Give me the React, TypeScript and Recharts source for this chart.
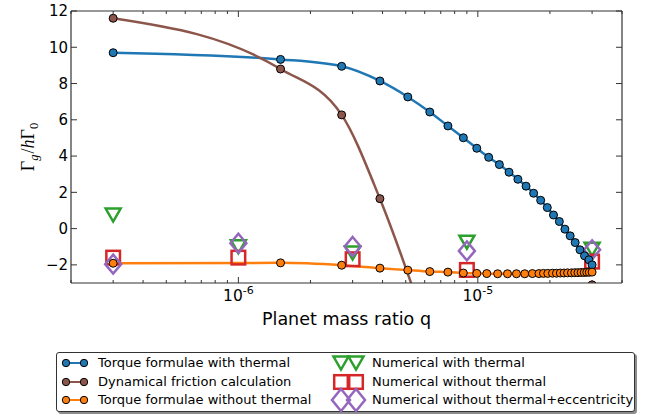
import React from "react";
import { ComposedChart, Line, Scatter, XAxis, YAxis, Legend } from "recharts";

// Torque formulae with thermal
const qThermal = [
  3e-7, 1.5e-6, 2.7e-6, 3.9e-6, 5.1e-6, 6.3e-6, 7.5e-6, 8.7e-6, 9.9e-6, 1.11e-5,
  1.23e-5, 1.35e-5, 1.47e-5, 1.59e-5, 1.71e-5, 1.83e-5, 1.95e-5, 2.07e-5, 2.19e-5,
  2.31e-5, 2.43e-5, 2.55e-5, 2.67e-5, 2.79e-5, 2.91e-5, 3.0e-5,
];
const gThermal = [
  9.7, 9.33, 8.95, 8.14, 7.26, 6.43, 5.66, 5.01, 4.43, 3.93, 3.53, 3.11, 2.72, 2.34,
  1.95, 1.56, 1.16, 0.75, 0.39, -0.03, -0.4, -0.77, -1.17, -1.5, -1.72, -2.0,
];

// Dynamical friction calculation
const qFriction = [3e-7, 1.5e-6, 2.7e-6, 3.9e-6, 6.3e-6, 1e-5, 3e-5];
const gFriction = [11.6, 8.8, 6.27, 1.65, -6.0, null, -3.1];

// Torque formulae without thermal
const qNoThermal = [
  3e-7, 1.5e-6, 2.7e-6, 3.9e-6, 5.1e-6, 6.3e-6, 7.5e-6, 8.7e-6, 9.9e-6, 1.09e-5,
  1.21e-5, 1.33e-5, 1.45e-5, 1.57e-5, 1.69e-5, 1.8e-5, 1.88e-5, 1.96e-5, 2.05e-5,
  2.13e-5, 2.21e-5, 2.29e-5, 2.37e-5, 2.46e-5, 2.54e-5, 2.62e-5, 2.7e-5, 2.78e-5,
  2.85e-5, 2.92e-5, 3.0e-5,
];
const gNoThermal = [
  -1.91, -1.89, -2.02, -2.18, -2.29, -2.37, -2.4, -2.45, -2.47, -2.48, -2.49, -2.49,
  -2.49, -2.49, -2.48, -2.48, -2.47, -2.47, -2.46, -2.46, -2.45, -2.45, -2.44, -2.44,
  -2.43, -2.43, -2.42, -2.42, -2.41, -2.41, -2.4,
];

// numerical runs
const qNumerical = [3e-7, 1e-6, 3e-6, 9e-6, 3e-5];
const gNumThermal = [0.75, -1.0, -1.35, -0.75, -1.14];
const gNumNoThermal = [-1.6, -1.6, -1.69, -2.28, -1.82];
const gNumEcc = [-1.96, -0.81, -0.99, -1.23, -1.17];

const xMajorTicks = [1e-6, 1e-5];
const xMajorExponents = ["-6", "-5"];
const xMinorTicks = [
  2e-7, 3e-7, 4e-7, 5e-7, 6e-7, 7e-7, 8e-7, 9e-7, 2e-6, 3e-6, 4e-6, 5e-6, 6e-6, 7e-6,
  8e-6, 9e-6, 2e-5, 3e-5, 4e-5,
];
const yTicks = [-2, 0, 2, 4, 6, 8, 10, 12];

const names = [
  "Torque formulae with thermal",
  "Dynamical friction calculation",
  "Torque formulae without thermal",
  "Numerical with thermal",
  "Numerical without thermal",
  "Numerical without thermal+eccentricity",
];

const BLUE = "#1f77b4";
const BROWN = "#8c564b";
const ORANGE = "#ff7f0e";
const GREEN = "#2ca02c";
const RED = "#d62728";
const PURPLE = "#9467bd";
const AXIS = "#333";
const FONT = '"DejaVu Sans", sans-serif';

const pts = (qs: number[], gs: (number | null)[]) => qs.map((q, i) => ({ q, g: gs[i] }));

const allXTicks = [...xMinorTicks, ...xMajorTicks].sort((a, b) => a - b);

function BottomTick(props: any) {
  const { x, y, payload } = props;
  const idx = xMajorTicks.indexOf(payload.value);
  const major = idx >= 0;
  return (
    <g>
      <line x1={x} x2={x} y1={y} y2={y - (major ? 6 : 3)} stroke={AXIS} strokeWidth={1} />
      {major && (
        <text x={x} y={y + 18} textAnchor="middle" fontFamily={FONT} fontSize={15.5} fill="#000">
          10
          <tspan dy={-7} fontSize={11}>
            {xMajorExponents[idx]}
          </tspan>
        </text>
      )}
    </g>
  );
}

function TopTick(props: any) {
  const { x, y, payload } = props;
  const major = xMajorTicks.includes(payload.value);
  return <line x1={x} x2={x} y1={y} y2={y + (major ? 6 : 3)} stroke={AXIS} strokeWidth={1} />;
}

function LeftTick(props: any) {
  const { x, y, payload } = props;
  const v = payload.value;
  return (
    <g>
      <line x1={x} x2={x + 6} y1={y} y2={y} stroke={AXIS} strokeWidth={1} />
      <text x={x - 3} y={y} dy={5.3} textAnchor="end" fontFamily={FONT} fontSize={15} fill="#000">
        {v < 0 ? `\u2212${-v}` : `${v}`}
      </text>
    </g>
  );
}

function RightTick(props: any) {
  const { x, y } = props;
  return <line x1={x} x2={x - 6} y1={y} y2={y} stroke={AXIS} strokeWidth={1} />;
}

function YLabel(props: any) {
  const { viewBox } = props;
  const cx = viewBox.x + 23;
  const cy = viewBox.y + viewBox.height / 2;
  return (
    <text
      x={cx}
      y={cy}
      transform={`rotate(-90, ${cx}, ${cy})`}
      textAnchor="middle"
      fontFamily='"Liberation Serif", serif'
      fontSize={18}
      fill="#000"
    >
      Γ
      <tspan fontStyle="italic" fontSize={12.5} dy={4}>g</tspan>
      <tspan dy={-4} dx={1}>/</tspan>
      <tspan fontStyle="italic">h</tspan>Γ
      <tspan fontSize={12.5} dy={4}>0</tspan>
    </text>
  );
}

function XLabel(props: any) {
  const { viewBox } = props;
  return (
    <text
      x={viewBox.x + viewBox.width / 2}
      y={viewBox.y + 42}
      textAnchor="middle"
      fontFamily={FONT}
      fontSize={17.5}
      fill="#000"
    >
      Planet mass ratio q
    </text>
  );
}

function TriDown({ cx, cy }: any) {
  const w = 7.5;
  const h = 6.5;
  return (
    <polygon
      points={`${cx - w},${cy - h} ${cx + w},${cy - h} ${cx},${cy + h}`}
      fill="none"
      stroke={GREEN}
      strokeWidth={2.5}
    />
  );
}

function Square({ cx, cy }: any) {
  return <rect x={cx - 6.8} y={cy - 6.8} width={13.6} height={13.6} fill="none" stroke={RED} strokeWidth={2.5} />;
}

function Diamond({ cx, cy }: any) {
  return (
    <polygon
      points={`${cx},${cy - 9.5} ${cx + 8},${cy} ${cx},${cy + 9.5} ${cx - 8},${cy}`}
      fill="none"
      stroke={PURPLE}
      strokeWidth={2.5}
    />
  );
}

function LegendMarker({ type, color }: any) {
  if (type === "circle") {
    return (
      <svg width={36} height={18}>
        <line x1={9} x2={27} y1={9} y2={9} stroke={color} strokeWidth={2} />
        <circle cx={9} cy={9} r={3.7} fill={color} stroke="#000" strokeWidth={1} />
        <circle cx={27} cy={9} r={3.7} fill={color} stroke="#000" strokeWidth={1} />
      </svg>
    );
  }
  const centers = [14, 29];
  return (
    <svg width={44} height={26} style={{ overflow: "visible" }}>
      {centers.map((c) =>
        type === "triangle" ? (
          <TriDown key={c} cx={c} cy={13} />
        ) : type === "square" ? (
          <Square key={c} cx={c} cy={13} />
        ) : (
          <polygon
            key={c}
            points={`${c},${13 - 11} ${c + 9},13 ${c},${13 + 11} ${c - 9},13`}
            fill="none"
            stroke={PURPLE}
            strokeWidth={2.5}
          />
        )
      )}
    </svg>
  );
}

function LegendBox(props: any) {
  const items = [...(props.payload || [])].sort(
    (a: any, b: any) => names.indexOf(a.value) - names.indexOf(b.value)
  );
  const rowY = [11, 30, 48];
  return (
    <div
      style={{
        position: "relative",
        width: 579,
        height: 60,
        border: `1px solid ${AXIS}`,
        borderRadius: 3,
        background: "#fff",
        boxShadow: "2px 2px 0 rgba(0,0,0,0.45)",
        fontFamily: FONT,
        fontSize: 13,
        boxSizing: "border-box",
      }}
    >
      {items.map((it: any, i: number) => {
        const col = i < 3 ? 0 : 1;
        const row = i % 3;
        const cy = rowY[row];
        const isLine = it.type === "circle";
        return (
          <React.Fragment key={it.value}>
            <div
              style={{
                position: "absolute",
                left: col === 0 ? 0 : 270,
                top: cy - (isLine ? 9 : 13) - 1,
                lineHeight: 0,
              }}
            >
              <LegendMarker type={it.type} color={it.color} />
            </div>
            <div
              style={{
                position: "absolute",
                left: col === 0 ? 41 : 315,
                top: cy - 10,
                lineHeight: "18px",
                whiteSpace: "nowrap",
                color: "#000",
              }}
            >
              {it.value}
            </div>
          </React.Fragment>
        );
      })}
    </div>
  );
}

export default function App() {
  const dotStyle = (c: string) => ({ r: 4, fill: c, stroke: "#000", strokeWidth: 1 });
  return (
    <div style={{ position: "absolute", left: 0, top: 0, background: "#fff" }}>
      <ComposedChart width={656} height={419} margin={{ top: 10, right: 33, bottom: 106, left: 11 }}>
        <XAxis
          xAxisId="bottom"
          dataKey="q"
          type="number"
          scale="log"
          domain={[2e-7, 4e-5]}
          allowDataOverflow
          ticks={allXTicks}
          interval={0}
          tickSize={0}
          tickMargin={0}
          tickLine={false}
          tick={<BottomTick />}
          axisLine={{ stroke: AXIS, strokeWidth: 1.2 }}
          height={30}
          label={<XLabel />}
        />
        <XAxis
          xAxisId="top"
          orientation="top"
          dataKey="q"
          type="number"
          scale="log"
          domain={[2e-7, 4e-5]}
          allowDataOverflow
          ticks={allXTicks}
          interval={0}
          tickSize={0}
          tickMargin={0}
          tickLine={false}
          tick={<TopTick />}
          axisLine={{ stroke: AXIS, strokeWidth: 1.2 }}
          height={1}
        />
        <YAxis
          yAxisId="left"
          dataKey="g"
          type="number"
          domain={[-3, 12]}
          allowDataOverflow
          ticks={yTicks}
          interval={0}
          tickSize={0}
          tickMargin={0}
          tickLine={false}
          tick={<LeftTick />}
          axisLine={{ stroke: AXIS, strokeWidth: 1.2 }}
          width={60}
          label={<YLabel />}
        />
        <YAxis
          yAxisId="right"
          orientation="right"
          dataKey="g"
          type="number"
          domain={[-3, 12]}
          allowDataOverflow
          ticks={yTicks}
          interval={0}
          tickSize={0}
          tickMargin={0}
          tickLine={false}
          tick={<RightTick />}
          axisLine={{ stroke: AXIS, strokeWidth: 1.2 }}
          width={1}
        />
        <Legend
          layout="horizontal"
          verticalAlign="middle"
          align="center"
          wrapperStyle={{ position: "absolute", left: 56, top: 352, width: 579, height: 60 }}
          content={<LegendBox />}
        />
        <Line
          name={names[0]}
          data={pts(qThermal, gThermal)}
          xAxisId="bottom"
          yAxisId="left"
          dataKey="g"
          type="monotone"
          stroke={BLUE}
          strokeWidth={2.5}
          dot={dotStyle(BLUE)}
          legendType="circle"
          isAnimationActive={false}
        />
        <Line
          name={names[1]}
          data={pts(qFriction, gFriction)}
          xAxisId="bottom"
          yAxisId="left"
          dataKey="g"
          type="monotone"
          stroke={BROWN}
          strokeWidth={2.5}
          dot={dotStyle(BROWN)}
          legendType="circle"
          isAnimationActive={false}
        />
        <Line
          name={names[2]}
          data={pts(qNoThermal, gNoThermal)}
          xAxisId="bottom"
          yAxisId="left"
          dataKey="g"
          type="monotone"
          stroke={ORANGE}
          strokeWidth={2.5}
          dot={dotStyle(ORANGE)}
          legendType="circle"
          isAnimationActive={false}
        />
        <Scatter
          name={names[3]}
          data={pts(qNumerical, gNumThermal)}
          xAxisId="bottom"
          yAxisId="left"
          dataKey="g"
          fill={GREEN}
          legendType="triangle"
          shape={(p: any) => <TriDown cx={p.cx} cy={p.cy} />}
          isAnimationActive={false}
        />
        <Scatter
          name={names[4]}
          data={pts(qNumerical, gNumNoThermal)}
          xAxisId="bottom"
          yAxisId="left"
          dataKey="g"
          fill={RED}
          legendType="square"
          shape={(p: any) => <Square cx={p.cx} cy={p.cy} />}
          isAnimationActive={false}
        />
        <Scatter
          name={names[5]}
          data={pts(qNumerical, gNumEcc)}
          xAxisId="bottom"
          yAxisId="left"
          dataKey="g"
          fill={PURPLE}
          legendType="diamond"
          shape={(p: any) => <Diamond cx={p.cx} cy={p.cy} />}
          isAnimationActive={false}
        />
      </ComposedChart>
    </div>
  );
}
